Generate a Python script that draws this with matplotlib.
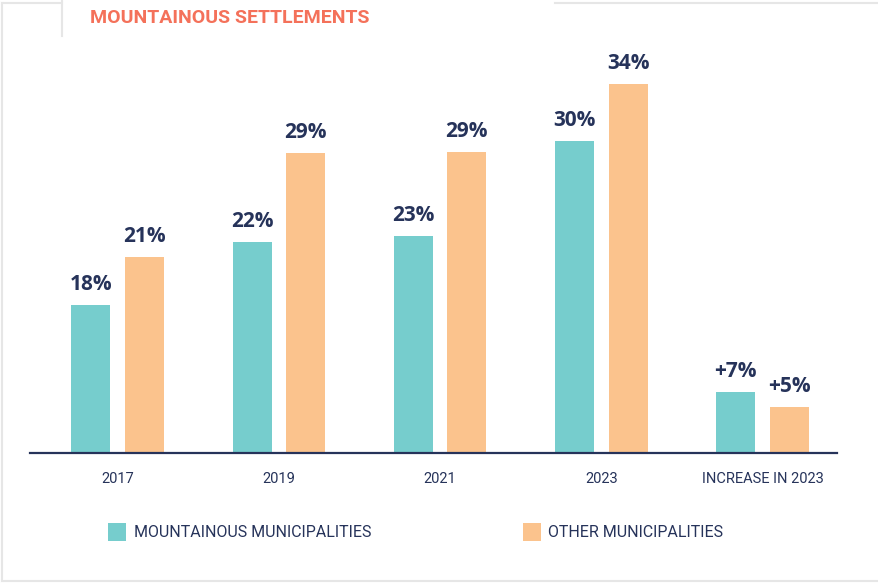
import matplotlib
matplotlib.use("Agg")
import matplotlib.pyplot as plt
from matplotlib.lines import Line2D
import numpy as np

# categories and the printed labels
groups = ["2017", "2019", "2021", "2023", "INCREASE IN 2023"]
label_mount = ["18%", "22%", "23%", "30%", "+7%"]
label_other = ["21%", "29%", "29%", "34%", "+5%"]
# bar heights (the source chart is not drawn to scale)
mount = [14.8, 21.1, 21.7, 31.2, 6.1]
other = [19.6, 30.0, 30.1, 36.9, 4.6]

TEAL = "#76cdcd"
ORANGE = "#fbc38d"
NAVY = "#26335a"
CORAL = "#f4715a"
FRAME = "#e6e6e6"

narrow = "Roboto"
plt.rcParams['font.family'] = ["Open Sans", "DejaVu Sans"]

W, H = 879, 583
fig = plt.figure(figsize=(W / 100, H / 100), dpi=100)
ax = fig.add_axes([29.5 / W, 1 - 452.5 / H, 807.5 / W, 400 / H])

x = np.arange(len(groups))
off, bw = 0.166, 0.242
b1 = ax.bar(x - off, mount, bw, color=TEAL, label="MOUNTAINOUS MUNICIPALITIES")
b2 = ax.bar(x + off, other, bw, color=ORANGE, label="OTHER MUNICIPALITIES")

for bars, labs in ((b1, label_mount), (b2, label_other)):
    for r, t in zip(bars, labs):
        ax.annotate(t, (r.get_x() + r.get_width() / 2, r.get_height()),
                    xytext=(0, 7), textcoords="offset points",
                    ha="center", va="bottom", fontsize=15,
                    fontweight="bold", color=NAVY)

ax.set_xlim(-0.546, 4.462)
ax.set_ylim(0, 40)
for s in ("top", "right", "left"):
    ax.spines[s].set_visible(False)
ax.spines["bottom"].set_color(NAVY)
ax.spines["bottom"].set_linewidth(1.6)
ax.set_yticks([])
ax.set_xticks(x)
ax.set_xticklabels(groups, family=narrow, fontsize=10.5, color=NAVY)
ax.tick_params(axis="x", length=0, pad=14)

leg = fig.legend(handles=[b1, b2], loc="center left",
                 bbox_to_anchor=(108 / W, 1 - 532 / H), ncol=2, frameon=False,
                 borderpad=0, borderaxespad=0, handlelength=1.15, handleheight=1.35,
                 handletextpad=0.45, columnspacing=9.5,
                 prop={"family": narrow, "size": 11.5})
for t in leg.get_texts():
    t.set_color(NAVY)

fig.text(90 / W, 1 - 18 / H, "MOUNTAINOUS SETTLEMENTS", family=narrow,
         fontweight="bold", fontsize=14, color=CORAL, va="center", ha="left")

# light frame around the panel
def fl(xs, ys):
    fig.add_artist(Line2D([v / W for v in xs], [1 - v / H for v in ys],
                          color=FRAME, lw=1.5))

fl([2.5, 2.5], [3, 581])
fl([2.5, 879], [581, 581])
fl([2.5, 62], [3, 3])
fl([62, 62], [0, 36])
fl([555, 879], [3, 3])

fig.savefig("out.png", dpi=100)
